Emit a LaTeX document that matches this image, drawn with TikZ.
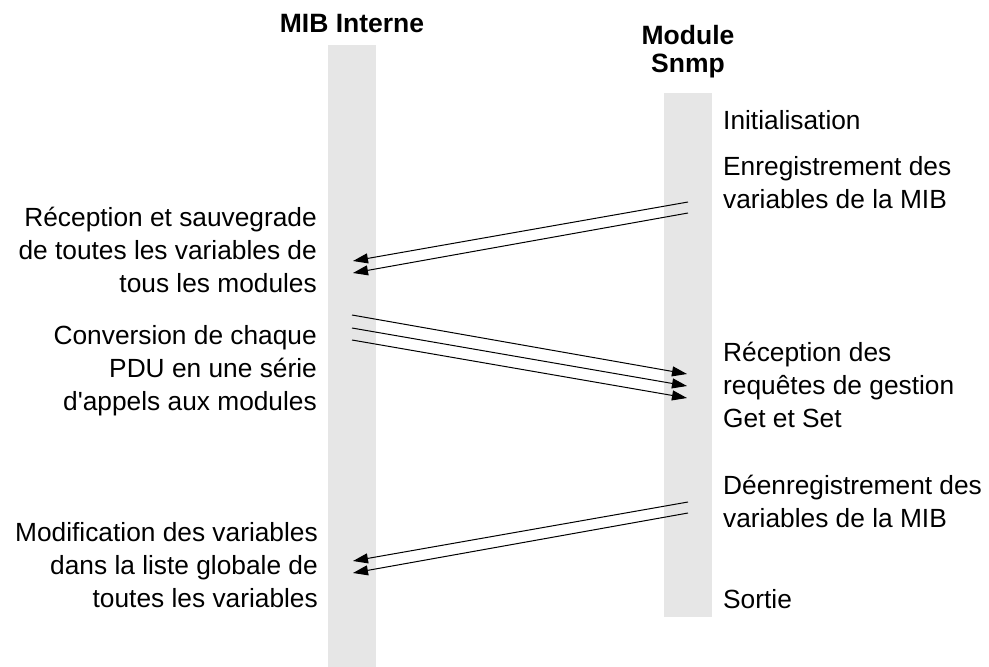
\documentclass[tikz,border=0pt]{standalone}
\usepackage{fontspec}
\setmainfont{Liberation Sans}
\usetikzlibrary{arrows.meta}
\definecolor{lifeline}{HTML}{E6E6E6}
\begin{document}
\begin{tikzpicture}[x=1pt,y=-1pt,
  lane/.style={fill=lifeline,draw=none},
  title/.style={font=\fontsize{26.5}{28}\selectfont\bfseries,align=center,inner sep=0pt,anchor=base},
  lefttext/.style={font=\fontsize{26.3}{33}\selectfont,align=right,inner sep=0pt,anchor=base east},
  righttext/.style={font=\fontsize{26.3}{33}\selectfont,align=left,inner sep=0pt,anchor=base west},
  msg/.style={line width=1pt,-{Triangle[length=15pt,width=10pt]}}]
\useasboundingbox (0,0) rectangle (989,667);

% lifelines
\fill[lane] (328,45) rectangle (376,667);
\fill[lane] (664,93) rectangle (712,617);

% headers (anchored at the baseline of the last line)
\node[title] (mib) at (352,32) {MIB Interne};
\node[title] (snmp) at (688,72) {Module\\Snmp};

% left-hand descriptions
\node[lefttext] (recv) at (317,292) {Réception et sauvegrade\\de toutes les variables de\\tous les modules};
\node[lefttext] (conv) at (317,410) {Conversion de chaque\\PDU en une série\\d\textquotesingle appels aux modules};
\node[lefttext] (modif) at (318,607) {Modification des variables\\dans la liste globale de\\toutes les variables};

% right-hand descriptions
\node[righttext] (init) at (723,129) {Initialisation};
\node[righttext] (enreg) at (723,208) {Enregistrement des\\variables de la MIB};
\node[righttext] (req) at (723,427) {Réception des\\requêtes de gestion\\Get et Set};
\node[righttext] (deenreg) at (723,527) {Déenregistrement des\\variables de la MIB};
\node[righttext] (sortie) at (723,608) {Sortie};

% message end points on the lifelines
\coordinate (rA1) at (688,202); \coordinate (lA1) at (353,261);
\coordinate (rA2) at (688,213); \coordinate (lA2) at (353,273);
\coordinate (lB1) at (352,315); \coordinate (rB1) at (687,374);
\coordinate (lB2) at (352,328); \coordinate (rB2) at (687,386);
\coordinate (lB3) at (352,340); \coordinate (rB3) at (687,398);
\coordinate (rC1) at (688,502); \coordinate (lC1) at (353,561);
\coordinate (rC2) at (688,513); \coordinate (lC2) at (353,573);

% messages
\draw[msg] (rA1) -- (lA1);
\draw[msg] (rA2) -- (lA2);
\draw[msg] (lB1) -- (rB1);
\draw[msg] (lB2) -- (rB2);
\draw[msg] (lB3) -- (rB3);
\draw[msg] (rC1) -- (lC1);
\draw[msg] (rC2) -- (lC2);
\end{tikzpicture}
\end{document}
